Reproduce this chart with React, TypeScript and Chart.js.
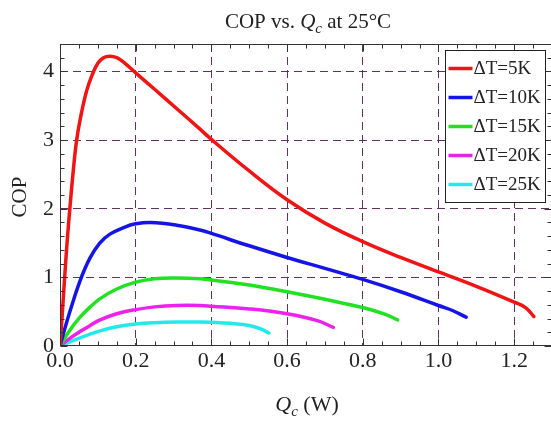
import React, { useEffect, useRef } from "react";
import { Chart, registerables } from "chart.js";

Chart.register(...registerables);

// ---- Data ----
const seriesLabels = ["ΔT=5K", "ΔT=10K", "ΔT=15K", "ΔT=20K", "ΔT=25K"];
const seriesColors = ["#f01414", "#1414e6", "#22e022", "#ec22ec", "#22eaea"];

const qc5 = [0, 0.004, 0.013, 0.02, 0.026, 0.035, 0.044, 0.055, 0.07, 0.085, 0.1, 0.115, 0.132, 0.15, 0.167, 0.2, 0.25, 0.308, 0.37, 0.4, 0.5, 0.6, 0.7, 0.8, 0.9, 1.0, 1.1, 1.2, 1.23, 1.252];
const cop5 = [0, 0.3, 1.06, 1.6, 2.0, 2.55, 3.0, 3.35, 3.71, 3.95, 4.12, 4.2, 4.22, 4.2, 4.14, 3.98, 3.74, 3.46, 3.16, 3.01, 2.55, 2.13, 1.79, 1.52, 1.29, 1.08, 0.87, 0.64, 0.56, 0.43];

const qc10 = [0, 0.013, 0.026, 0.053, 0.079, 0.105, 0.132, 0.17, 0.2, 0.24, 0.308, 0.37, 0.4, 0.5, 0.6, 0.7, 0.8, 0.9, 1.0, 1.04, 1.073];
const cop10 = [0, 0.26, 0.5, 0.95, 1.28, 1.5, 1.63, 1.73, 1.78, 1.8, 1.76, 1.69, 1.64, 1.46, 1.29, 1.13, 0.97, 0.79, 0.59, 0.51, 0.42];

const qc15 = [0, 0.026, 0.053, 0.08, 0.106, 0.15, 0.2, 0.25, 0.308, 0.37, 0.4, 0.5, 0.6, 0.7, 0.8, 0.86, 0.892];
const cop15 = [0, 0.23, 0.42, 0.57, 0.69, 0.83, 0.93, 0.98, 0.99, 0.98, 0.96, 0.89, 0.79, 0.68, 0.56, 0.46, 0.38];

const qc20 = [0, 0.026, 0.053, 0.08, 0.106, 0.15, 0.2, 0.25, 0.308, 0.37, 0.4, 0.5, 0.6, 0.68, 0.722];
const cop20 = [0, 0.11, 0.21, 0.3, 0.38, 0.47, 0.53, 0.57, 0.59, 0.59, 0.58, 0.54, 0.47, 0.37, 0.27];

const qc25 = [0, 0.053, 0.106, 0.15, 0.2, 0.25, 0.308, 0.37, 0.4, 0.45, 0.5, 0.53, 0.552];
const cop25 = [0, 0.12, 0.22, 0.28, 0.32, 0.34, 0.35, 0.35, 0.345, 0.33, 0.3, 0.25, 0.19];

const seriesQc = [qc5, qc10, qc15, qc20, qc25];
const seriesCop = [cop5, cop10, cop15, cop20, cop25];

// Axis settings
const xMin = 0, xMax = 1.3, xStep = 0.2, xMinorStep = 0.05;
const yMin = 0, yMax = 4.4, yStep = 1, yMinorStep = 0.2;

const titleParts = [
  { text: "COP vs. ", italic: false, sub: false },
  { text: "Q", italic: true, sub: false },
  { text: "c", italic: true, sub: true },
  { text: " at 25°C", italic: false, sub: false },
];
const xTitleParts = [
  { text: "Q", italic: true, sub: false },
  { text: "c", italic: true, sub: true },
  { text: " (W)", italic: false, sub: false },
];
const yTitle = "COP";

const FONT = "'Liberation Serif', 'Times New Roman', serif";

function drawRich(ctx: CanvasRenderingContext2D, parts: any[], cx: number, baseline: number, size: number) {
  const fontFor = (p: any) => `${p.italic ? "italic " : ""}${p.sub ? Math.round(size * 0.7) : size}px ${FONT}`;
  let total = 0;
  for (const p of parts) {
    ctx.font = fontFor(p);
    total += ctx.measureText(p.text).width;
  }
  let x = cx - total / 2;
  ctx.textAlign = "left";
  ctx.textBaseline = "alphabetic";
  for (const p of parts) {
    ctx.font = fontFor(p);
    ctx.fillText(p.text, x, baseline + (p.sub ? size * 0.22 : 0));
    x += ctx.measureText(p.text).width;
  }
}

const framePlugin = {
  id: "frameTicks",
  afterDatasetsDraw(chart: any) {
    const { ctx, chartArea: a, scales } = chart;
    const xs = scales.x, ys = scales.y;
    ctx.save();
    ctx.strokeStyle = "#333";
    ctx.lineWidth = 1;
    const L = Math.round(a.left) + 0.5, R = Math.round(a.right) - 0.5;
    const T = Math.round(a.top) + 0.5, B = Math.round(a.bottom) - 0.5;
    ctx.strokeRect(L, T, R - L, B - T);
    ctx.beginPath();
    const nx = Math.round((xMax - xMin) / xMinorStep);
    for (let i = 0; i <= nx; i++) {
      const v = xMin + i * xMinorStep;
      const major = Math.abs(v / xStep - Math.round(v / xStep)) < 1e-6;
      const len = major ? 7 : 4;
      const px = Math.round(xs.getPixelForValue(v)) + 0.5;
      ctx.moveTo(px, B); ctx.lineTo(px, B - len);
      ctx.moveTo(px, T); ctx.lineTo(px, T + len);
    }
    const ny = Math.round((yMax - yMin) / yMinorStep);
    for (let i = 0; i <= ny; i++) {
      const v = yMin + i * yMinorStep;
      const major = Math.abs(v / yStep - Math.round(v / yStep)) < 1e-6;
      const len = major ? 7 : 4;
      const py = Math.round(ys.getPixelForValue(v)) + 0.5;
      ctx.moveTo(L, py); ctx.lineTo(L + len, py);
      ctx.moveTo(R, py); ctx.lineTo(R - len, py);
    }
    ctx.stroke();

    // Legend box
    const bw = 100, bh = 152;
    const bx = Math.round(a.right) - 7 - bw + 0.5;
    const by = Math.round(a.top) + 6 + 0.5;
    ctx.fillStyle = "#fff";
    ctx.fillRect(bx, by, bw, bh);
    ctx.strokeStyle = "#222";
    ctx.strokeRect(bx, by, bw, bh);
    chart.data.datasets.forEach((ds: any, i: number) => {
      const yy = by + 18 + i * 29;
      ctx.strokeStyle = ds.borderColor;
      ctx.lineWidth = 3.5;
      ctx.lineCap = "butt";
      ctx.beginPath();
      ctx.moveTo(bx + 3, yy);
      ctx.lineTo(bx + 27, yy);
      ctx.stroke();
      ctx.fillStyle = "#222";
      ctx.font = `19px ${FONT}`;
      ctx.textAlign = "left";
      ctx.textBaseline = "middle";
      ctx.fillText(ds.label, bx + 28, yy + 1);
    });

    // Titles
    ctx.fillStyle = "#222";
    const cx = (a.left + a.right) / 2;
    drawRich(ctx, titleParts, cx + 2, 28, 21);
    drawRich(ctx, xTitleParts, cx + 1, 411, 22);
    ctx.save();
    ctx.translate(20, (a.top + a.bottom) / 2 + 2);
    ctx.rotate(-Math.PI / 2);
    ctx.font = `21px ${FONT}`;
    ctx.textAlign = "center";
    ctx.textBaseline = "middle";
    ctx.fillText(yTitle, 0, 0);
    ctx.restore();
    ctx.restore();
  },
};

export default function App() {
  const ref = useRef<HTMLCanvasElement | null>(null);
  useEffect(() => {
    if (!ref.current) return;
    const datasets = seriesLabels.map((label, i) => ({
      label,
      data: seriesQc[i].map((q, j) => ({ x: q, y: seriesCop[i][j] })),
      borderColor: seriesColors[i],
      backgroundColor: seriesColors[i],
      borderWidth: 3.5,
      pointRadius: 0,
      showLine: true,
      fill: false,
      tension: 0.4,
      borderCapStyle: "round" as const,
      borderJoinStyle: "round" as const,
    }));
    const gridColor = (ctx: any) => (ctx.tick && ctx.tick.value === 0 ? "rgba(0,0,0,0)" : "rgba(90,40,90,0.95)");
    const chart = new Chart(ref.current, {
      type: "scatter",
      data: { datasets },
      plugins: [framePlugin],
      options: {
        responsive: false,
        animation: false,
        devicePixelRatio: 1,
        layout: { padding: { left: 0, right: 4, top: 44, bottom: 0 } },
        plugins: { legend: { display: false }, title: { display: false }, tooltip: { enabled: false } },
        scales: {
          x: {
            type: "linear",
            min: xMin,
            max: xMax,
            afterFit: (s: any) => { s.height = 76; },
            ticks: {
              stepSize: xStep,
              includeBounds: false,
              padding: 2,
              color: "#222",
              font: { family: FONT, size: 22 },
              callback: (v: any) => Number(v).toFixed(1),
              maxRotation: 0,
            },
            grid: { drawTicks: false, color: gridColor, lineWidth: 1 },
            border: { display: false, dash: [8, 5] },
          },
          y: {
            type: "linear",
            min: yMin,
            max: yMax,
            afterFit: (s: any) => { s.width = 60; },
            ticks: {
              stepSize: yStep,
              includeBounds: false,
              padding: 6,
              color: "#222",
              font: { family: FONT, size: 22 },
              callback: (v: any) => String(Math.round(Number(v))),
            },
            grid: { drawTicks: false, color: gridColor, lineWidth: 1 },
            border: { display: false, dash: [8, 5] },
          },
        },
      },
    });
    return () => chart.destroy();
  }, []);
  return (
    <div style={{ position: "fixed", left: 0, top: 0, width: 551, height: 422, overflow: "hidden", background: "#fff" }}>
      <canvas ref={ref} width={556} height={422} style={{ display: "block" }} />
    </div>
  );
}
